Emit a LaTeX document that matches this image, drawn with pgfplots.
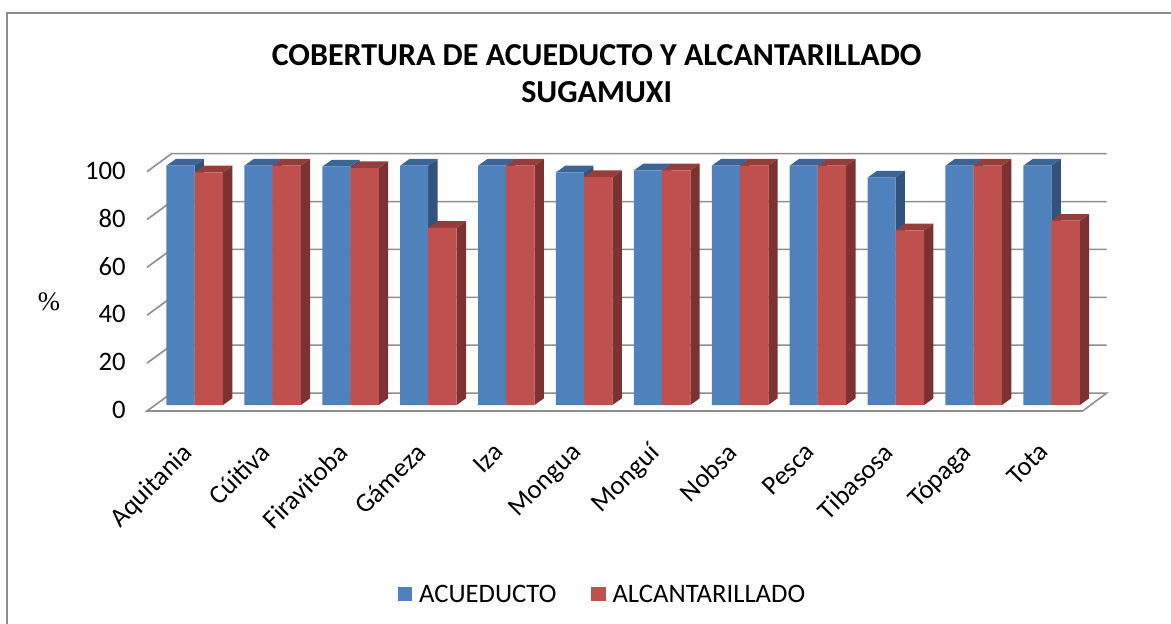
\documentclass[border=0pt]{standalone}
\usepackage{pgfplots}
\pgfplotsset{compat=1.18}
\usepackage{fontspec}
\setmainfont{Carlito}
\newfontfamily\timesf{Liberation Serif}
\definecolor{bluef}{HTML}{4F81BD}
\definecolor{blues}{HTML}{31527C}
\definecolor{bluet}{HTML}{3B6596}
\definecolor{redf}{HTML}{C0504D}
\definecolor{reds}{HTML}{7B3230}
\definecolor{redt}{HTML}{953D3A}
\definecolor{gridg}{HTML}{8E8E8E}
\pgfplotstableread{
x acueducto alcantarillado
0 100 97.2
1 100 100
2 99.6 99.0
3 100 74.0
4 100 100
5 97.2 95.2
6 98 98
7 100 100
8 100 100
9 95 73
10 100 100
11 100 77
}\cobertura
% depth of one bar: x position, left edge, right edge, value, side colour, top colour
\newcommand{\depth}[6]{%
 \addplot[fill=#5,draw=none,forget plot] coordinates {({#1+#3},0) ({#1+#3+0.12},2.8) ({#1+#3+0.12},{#4+2.8}) ({#1+#3},#4)};
 \addplot[fill=#6,draw=none,forget plot] coordinates {({#1+#2},#4) ({#1+#2+0.12},{#4+2.8}) ({#1+#3+0.12},{#4+2.8}) ({#1+#3},#4)};
}
\newcommand{\bluedepth}[2]{\depth{#1}{-0.36}{0}{#2}{blues}{bluet}}
\newcommand{\reddepth}[2]{\depth{#1}{0}{0.365}{#2}{reds}{redt}}
\newcommand{\gridn}[1]{%
 \addplot[gridg,line width=1.2pt,forget plot] coordinates {(-0.61,{#1-2.5}) (-0.295,{#1+5}) (11.71,{#1+5})};
}
\begin{document}
\begin{tikzpicture}
\path[use as bounding box] (0,0) rectangle (878.25pt,-468pt);
\draw[gridg,line width=1.5pt] (5.3pt,-468pt) -- (5.3pt,-10pt) -- (878.25pt,-10pt);
\node[font=\fontsize{24pt}{27.75pt}\selectfont\bfseries,align=center] at (447.5pt,-55.5pt) {COBERTURA DE ACUEDUCTO Y ALCANTARILLADO\\SUGAMUXI};
\node[font=\timesf\fontsize{20pt}{24pt}\selectfont] at (36.75pt,-226.5pt) {\%};
\begin{axis}[
  at={(110.25pt,-308.25pt)},anchor=south west,
  scale only axis,width=719.8pt,height=193.7pt,
  xmin=-0.61,xmax=11.71,ymin=-2.5,ymax=105.4,
  clip=false,
  axis line style={draw=none},
  major tick length=0pt,
  xtick pos=bottom,ytick pos=left,
  xtick={0,...,11},
  xticklabels={Aquitania,Cúitiva,Firavitoba,Gámeza,Iza,Mongua,Monguí,Nobsa,Pesca,Tibasosa,Tópaga,Tota},
  ytick={0,20,...,100},
  /pgf/number format/assume math mode=true,
  tick label style={font=\fontsize{20pt}{24pt}\selectfont},
  yticklabel style={yshift=-3.6pt,xshift=-12.5pt},
  xticklabel style={rotate=45,anchor=north east,inner sep=0pt,xshift=-23.5pt,yshift=-8.7pt},
  legend style={at={(axis cs:5.24,-79.2)},anchor=center,draw=none,fill=none,font=\fontsize{20pt}{24pt}\selectfont,legend columns=2,
    /tikz/every even column/.append style={column sep=24pt},
    /tikz/every odd column/.append style={column sep=3pt}},
  legend image code/.code={\fill[#1] (0cm,-0.18cm) rectangle (0.39cm,0.2cm);},
]
% floor and walls
\addplot[gridg,line width=1.2pt,forget plot] coordinates {(11.40,-2.5) (-0.61,-2.5) (-0.295,5) (11.71,5) (11.40,-2.5)};
\gridn{20}\gridn{40}\gridn{60}\gridn{80}\gridn{100}
% blue depth
\bluedepth{0}{100}\bluedepth{1}{100}\bluedepth{2}{99.6}\bluedepth{3}{100}\bluedepth{4}{100}\bluedepth{5}{97.2}
\bluedepth{6}{98}\bluedepth{7}{100}\bluedepth{8}{100}\bluedepth{9}{95}\bluedepth{10}{100}\bluedepth{11}{100}
\addplot[ybar,bar width=0.36,bar shift=-0.18,fill=bluef,draw=none] table[x=x,y=acueducto] {\cobertura};
\addlegendentry{ACUEDUCTO}
% red depth
\reddepth{0}{97.2}\reddepth{1}{100}\reddepth{2}{99.0}\reddepth{3}{74.0}\reddepth{4}{100}\reddepth{5}{95.2}
\reddepth{6}{98}\reddepth{7}{100}\reddepth{8}{100}\reddepth{9}{73}\reddepth{10}{100}\reddepth{11}{77}
\addplot[ybar,bar width=0.365,bar shift=0.1825,fill=redf,draw=none] table[x=x,y=alcantarillado] {\cobertura};
\addlegendentry{ALCANTARILLADO}
\end{axis}
\end{tikzpicture}
\end{document}
